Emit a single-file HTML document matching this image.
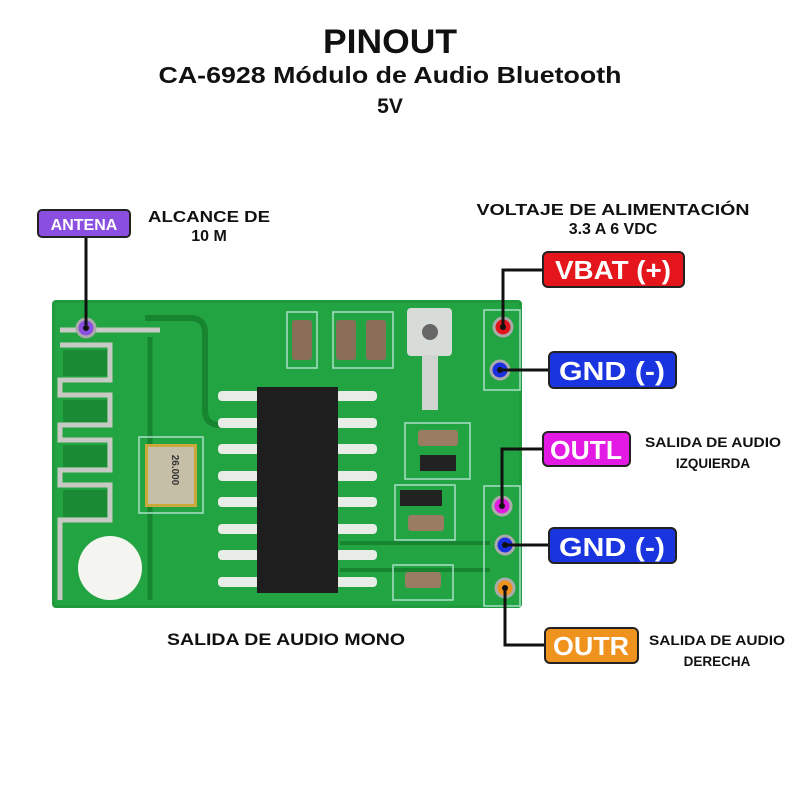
<!DOCTYPE html>
<html><head><meta charset="utf-8"><style>
html,body{margin:0;padding:0;background:#fff}
svg{display:block}
text{font-family:"Liberation Sans",sans-serif;font-weight:bold}
</style></head><body>
<svg width="800" height="800" viewBox="0 0 800 800" xmlns="http://www.w3.org/2000/svg">
<rect width="800" height="800" fill="#fff"/>
<text x="390" y="53" font-size="34" text-anchor="middle" fill="#111" textLength="134" lengthAdjust="spacingAndGlyphs">PINOUT</text>
<text x="390" y="83" font-size="23" text-anchor="middle" fill="#111" textLength="463" lengthAdjust="spacingAndGlyphs">CA-6928 Módulo de Audio Bluetooth</text>
<text x="390" y="113" font-size="21" text-anchor="middle" fill="#111">5V</text>

<!-- board -->
<rect x="52" y="300" width="470" height="308" rx="4" fill="#1f9a3c"/>
<rect x="55" y="303" width="464" height="302" fill="#23a442"/>
<path d="M145 318 L190 318 Q205 318 205 333 L205 410 Q205 425 220 425" stroke="#17852f" stroke-width="6" fill="none"/>
<path d="M150 337 L150 600" stroke="#17852f" stroke-width="5" fill="none"/>
<path d="M340 543 L490 543" stroke="#17852f" stroke-width="4"/>
<path d="M340 570 L490 570" stroke="#17852f" stroke-width="4"/>
<g stroke="#c7c9c4" stroke-width="5" fill="none">
<path d="M60 330 L160 330"/>
<path d="M60 345 L110 345 L110 380 L60 380 L60 395 L110 395 L110 425 L60 425 L60 440 L110 440 L110 470 L60 470 L60 485 L110 485 L110 520 L60 520 L60 600"/>
</g>
<rect x="63" y="350" width="44" height="26" fill="#1b8a35"/>
<rect x="63" y="400" width="44" height="22" fill="#1b8a35"/>
<rect x="63" y="445" width="44" height="22" fill="#1b8a35"/>
<rect x="63" y="490" width="44" height="27" fill="#1b8a35"/>
<circle cx="110" cy="568" r="32" fill="#f4f4f0"/>
<rect x="139" y="437" width="64" height="76" fill="none" stroke="#a9e0c8" stroke-width="1.5"/>
<rect x="145" y="444" width="52" height="63" fill="#c9a83c"/>
<rect x="148" y="447" width="46" height="57" fill="#c6bfa8"/>
<text x="172" y="470" font-size="10" fill="#333" text-anchor="middle" transform="rotate(90 172 470)">26.000</text>
<rect x="287" y="312" width="30" height="56" fill="none" stroke="#a9e0c8" stroke-width="1.5"/>
<rect x="292" y="320" width="20" height="40" rx="3" fill="#8b6e58"/>
<rect x="333" y="312" width="60" height="56" fill="none" stroke="#a9e0c8" stroke-width="1.5"/>
<rect x="336" y="320" width="20" height="40" rx="3" fill="#8b6e58"/>
<rect x="366" y="320" width="20" height="40" rx="3" fill="#8b6e58"/>
<rect x="407" y="308" width="45" height="48" rx="4" fill="#d8dcd8"/>
<circle cx="430" cy="332" r="8" fill="#666"/>
<rect x="422" y="355" width="16" height="55" fill="#d0d4d0"/>
<g fill="#e8ece6">
<rect x="218" y="391" width="42" height="10" rx="4"/><rect x="218" y="418" width="42" height="10" rx="4"/>
<rect x="218" y="444" width="42" height="10" rx="4"/><rect x="218" y="471" width="42" height="10" rx="4"/>
<rect x="218" y="497" width="42" height="10" rx="4"/><rect x="218" y="524" width="42" height="10" rx="4"/>
<rect x="218" y="550" width="42" height="10" rx="4"/><rect x="218" y="577" width="42" height="10" rx="4"/>
<rect x="335" y="391" width="42" height="10" rx="4"/><rect x="335" y="418" width="42" height="10" rx="4"/>
<rect x="335" y="444" width="42" height="10" rx="4"/><rect x="335" y="471" width="42" height="10" rx="4"/>
<rect x="335" y="497" width="42" height="10" rx="4"/><rect x="335" y="524" width="42" height="10" rx="4"/>
<rect x="335" y="550" width="42" height="10" rx="4"/><rect x="335" y="577" width="42" height="10" rx="4"/>
</g>
<rect x="257" y="387" width="81" height="206" fill="#1e1e1e"/>
<rect x="405" y="423" width="65" height="56" fill="none" stroke="#a9e0c8" stroke-width="1.5"/>
<rect x="418" y="430" width="40" height="16" rx="3" fill="#9a7c63"/>
<rect x="420" y="455" width="36" height="16" fill="#222"/>
<rect x="395" y="485" width="60" height="55" fill="none" stroke="#a9e0c8" stroke-width="1.5"/>
<rect x="400" y="490" width="42" height="16" fill="#222"/>
<rect x="408" y="515" width="36" height="16" rx="3" fill="#9a7c63"/>
<rect x="393" y="565" width="60" height="35" fill="none" stroke="#a9e0c8" stroke-width="1.5"/>
<rect x="405" y="572" width="36" height="16" rx="3" fill="#9a7c63"/>
<rect x="484" y="310" width="36" height="80" fill="none" stroke="#a9e0c8" stroke-width="1.5"/>
<rect x="484" y="486" width="36" height="120" fill="none" stroke="#a9e0c8" stroke-width="1.5"/>
<g stroke="#aaa" stroke-width="3">
<circle cx="503" cy="327" r="9" fill="#e0141a"/>
<circle cx="500" cy="370" r="9" fill="#1a2fe0"/>
<circle cx="502" cy="506" r="9" fill="#e01ae0"/>
<circle cx="505" cy="545" r="9" fill="#1a2fe0"/>
<circle cx="505" cy="588" r="9" fill="#f0921e"/>
<circle cx="86" cy="328" r="9" fill="#8a4fe0"/>
</g>
<g fill="#111"><circle cx="503" cy="327" r="3"/><circle cx="500" cy="370" r="3"/><circle cx="502" cy="506" r="3"/><circle cx="505" cy="545" r="3"/><circle cx="505" cy="588" r="3"/><circle cx="86" cy="328" r="3"/></g>

<g stroke="#111" stroke-width="3" fill="none">
<path d="M86 237 L86 325"/>
<path d="M503 325 L503 270 L544 270"/>
<path d="M503 370 L550 370"/>
<path d="M502 504 L502 449 L544 449"/>
<path d="M505 545 L550 545"/>
<path d="M505 590 L505 645 L546 645"/>
</g>

<rect x="38" y="210" width="92" height="27" rx="4" fill="#8a4fe0" stroke="#222" stroke-width="2"/>
<text x="84" y="230" font-size="16" fill="#fff" text-anchor="middle">ANTENA</text>
<text x="209" y="222" font-size="16" fill="#111" text-anchor="middle" textLength="122" lengthAdjust="spacingAndGlyphs">ALCANCE DE</text>
<text x="209" y="241" font-size="16" fill="#111" text-anchor="middle">10 M</text>
<text x="613" y="215" font-size="16" fill="#111" text-anchor="middle" textLength="273" lengthAdjust="spacingAndGlyphs">VOLTAJE DE ALIMENTACIÓN</text>
<text x="613" y="234" font-size="16" fill="#111" text-anchor="middle">3.3 A 6 VDC</text>

<rect x="543" y="252" width="141" height="35" rx="5" fill="#e4151b" stroke="#222" stroke-width="2"/>
<text x="613" y="279" font-size="26" fill="#fff" text-anchor="middle" textLength="116" lengthAdjust="spacingAndGlyphs">VBAT (+)</text>
<rect x="549" y="352" width="127" height="36" rx="5" fill="#1a35e0" stroke="#222" stroke-width="2"/>
<text x="612" y="380" font-size="26" fill="#fff" text-anchor="middle" textLength="106" lengthAdjust="spacingAndGlyphs">GND (-)</text>
<rect x="543" y="432" width="87" height="34" rx="5" fill="#e31ae3" stroke="#222" stroke-width="2"/>
<text x="586" y="459" font-size="26" fill="#fff" text-anchor="middle" textLength="72" lengthAdjust="spacingAndGlyphs">OUTL</text>
<rect x="549" y="528" width="127" height="35" rx="5" fill="#1a35e0" stroke="#222" stroke-width="2"/>
<text x="612" y="556" font-size="26" fill="#fff" text-anchor="middle" textLength="106" lengthAdjust="spacingAndGlyphs">GND (-)</text>
<rect x="545" y="628" width="93" height="35" rx="5" fill="#f0921e" stroke="#222" stroke-width="2"/>
<text x="591" y="655" font-size="26" fill="#fff" text-anchor="middle" textLength="76" lengthAdjust="spacingAndGlyphs">OUTR</text>

<text x="713" y="447" font-size="13.5" fill="#111" text-anchor="middle" textLength="136" lengthAdjust="spacingAndGlyphs">SALIDA DE AUDIO</text>
<text x="713" y="468" font-size="13.5" fill="#111" text-anchor="middle">IZQUIERDA</text>
<text x="717" y="645" font-size="13.5" fill="#111" text-anchor="middle" textLength="136" lengthAdjust="spacingAndGlyphs">SALIDA DE AUDIO</text>
<text x="717" y="666" font-size="13.5" fill="#111" text-anchor="middle">DERECHA</text>
<text x="286" y="645" font-size="17" fill="#111" text-anchor="middle" textLength="238" lengthAdjust="spacingAndGlyphs">SALIDA DE AUDIO MONO</text>
</svg>
</body></html>
